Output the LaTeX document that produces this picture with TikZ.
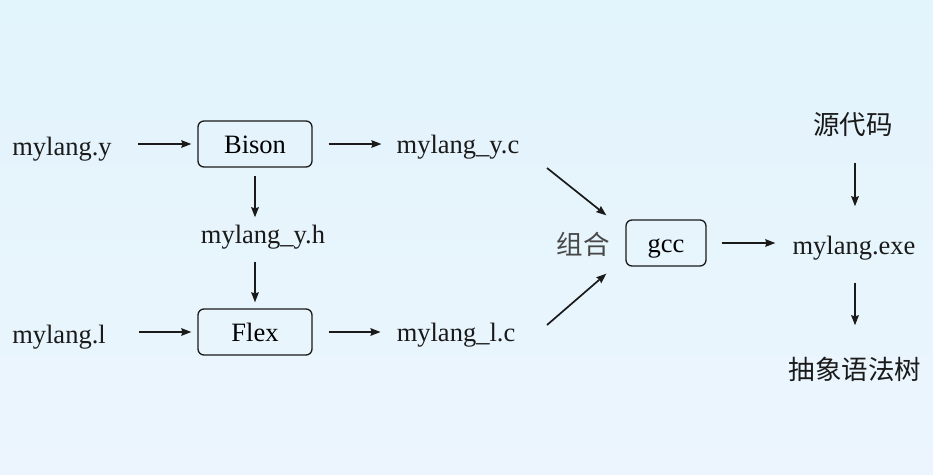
\documentclass[tikz,border=0pt]{standalone}
\usepackage{fontspec}
\setmainfont{Liberation Serif}
\newfontfamily\cjk{Noto Sans CJK SC}
\usetikzlibrary{arrows.meta}
\definecolor{bgtop}{RGB}{226,244,252}
\definecolor{bgmid}{RGB}{248,251,254}
\definecolor{bgbot}{RGB}{236,245,253}
\definecolor{ink}{RGB}{26,26,26}

\begin{document}
\begin{tikzpicture}[x=1pt,y=-1pt,
  tool/.style={draw=ink,line width=1.3pt,rounded corners=6pt,minimum height=46pt,inner sep=0pt,text height=21.5pt,text depth=3.5pt},
  file/.style={text=ink,inner sep=0pt,text height=21pt,text depth=4pt},
  flow/.style={-{Stealth[length=10pt,width=7.5pt,inset=1pt]},line width=1.7pt,draw=ink},
  every node/.style={font=\fontsize{26.5}{30}\selectfont}]
\useasboundingbox (0,0) rectangle (933,474);
\shade[top color=bgtop,middle color=bgmid,bottom color=bgbot] (0,0) rectangle (933,474);

% inputs and generated files
\node [file] (y) at (62,147) {mylang.y};
\node [file] (l) at (59,335) {mylang.l};
\node [tool,minimum width=114pt] (bison) at (255,144) {Bison};
\node [tool,minimum width=114pt] (flex) at (255,332) {Flex};
\node [file] (yc) at (458,145) {mylang\_y.c};
\node [file] (yh) at (263,235) {mylang\_y.h};
\node [file] (lc) at (456,333) {mylang\_l.c};

% compile step
\node [file,text=ink!80] (zuhe) at (583,246) {\cjk 组合};
\node [tool,minimum width=80pt] (gcc) at (666,243) {gcc};
\node [file] (exe) at (854,246) {mylang.exe};
\node [file] (src) at (853,126) {\cjk 源代码};
\node [file] (ast) at (855,371) {\cjk 抽象语法树};

\draw [flow] ([xshift=26pt]y.east |- bison.west) -- ([xshift=-6pt]bison.west);
\draw [flow] ([xshift=16pt]bison.east) -- ([xshift=-15pt]yc.west |- bison.east);
\draw [flow] ([yshift=-8pt]bison.south) -- ([yshift=5pt]bison.south |- yh.north);
\draw [flow] ([yshift=-14pt]flex.north |- yh.south) -- ([yshift=6pt]flex.north);
\draw [flow] ([xshift=33pt]l.east |- flex.west) -- ([xshift=-6pt]flex.west);
\draw [flow] ([xshift=16pt]flex.east) -- ([xshift=-16pt]lc.west |- flex.east);
\coordinate (c1) at (547,168);
\coordinate (c2) at (547,325);
\draw [flow] (c1) -- ([xshift=-19pt,yshift=4pt]gcc.north west);
\draw [flow] (c2) -- ([xshift=-19pt,yshift=-7pt]gcc.south west);
\draw [flow] ([xshift=15pt]gcc.east) -- ([xshift=-17pt]exe.west |- gcc.east);
\draw [flow] ([xshift=2pt,yshift=-24pt]src.south) -- ([xshift=1pt,yshift=27pt]exe.north);
\draw [flow] ([xshift=1pt,yshift=-24pt]exe.south) -- ([yshift=33pt]ast.north);

\end{tikzpicture}
\end{document}
